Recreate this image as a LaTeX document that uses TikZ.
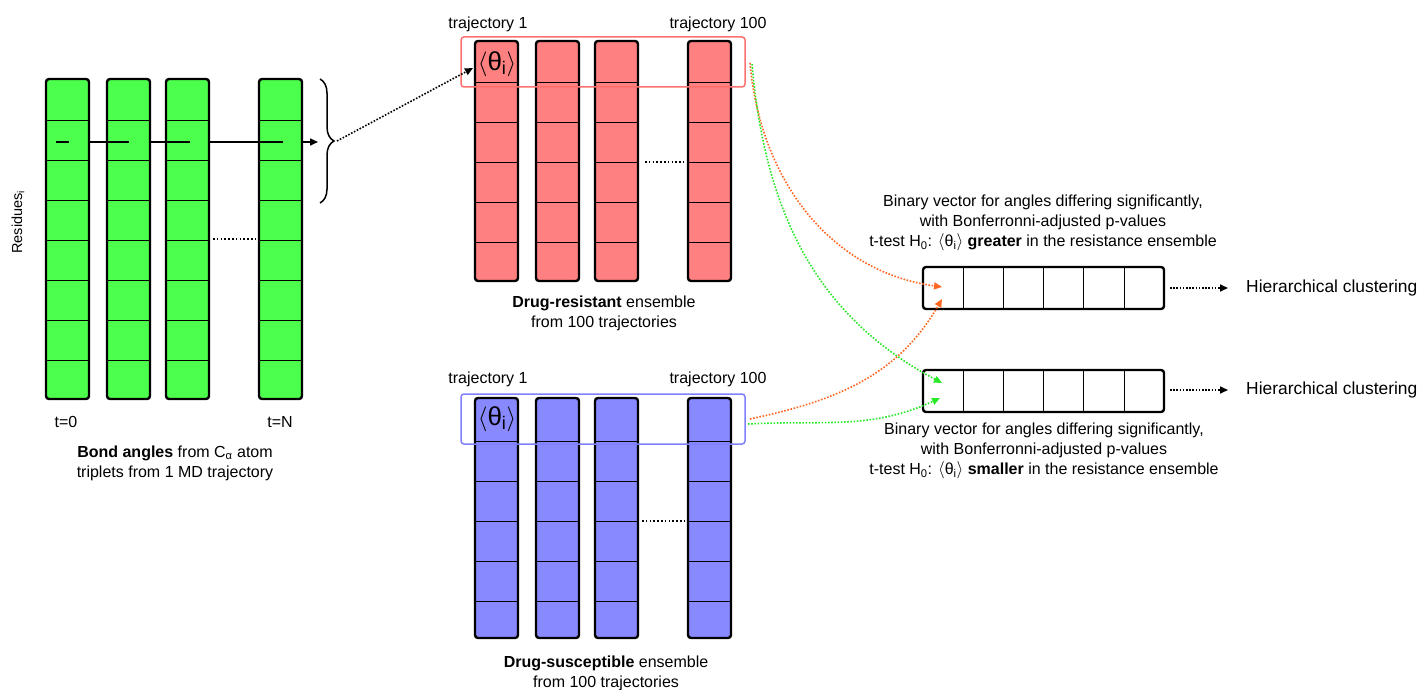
\documentclass[tikz,border=0pt]{standalone}
\usepackage{fontspec}
\setmainfont{Liberation Sans}
\usetikzlibrary{arrows.meta,calc,decorations.pathreplacing}

\definecolor{gfill}{RGB}{77,255,77}
\definecolor{rfill}{RGB}{255,128,128}
\definecolor{bfill}{RGB}{136,136,255}
\definecolor{redframe}{RGB}{255,112,112}
\definecolor{blueframe}{RGB}{128,128,255}
\definecolor{arrorange}{RGB}{255,102,34}
\definecolor{arrgreen}{RGB}{40,232,40}

\newcommand{\thetalab}{$\langle$θ\textsubscript{i}$\rangle$}

\begin{document}
\begin{tikzpicture}[x=1pt,y=-1pt,
  bar/.style={rectangle, rounded corners=3pt, draw=black, line width=2.4pt,
    inner sep=0pt, outer sep=0pt, minimum width=43pt, anchor=north west},
  rowline/.style={black, line width=0.9pt},
  gapdots/.style={black, line width=1.6pt, dash pattern=on 1.6pt off 2.2pt},
  frame/.style={rectangle, rounded corners=3pt, line width=1.5pt,
    inner sep=0pt, outer sep=0pt, anchor=north west},
  vecbox/.style={rectangle, rounded corners=3pt, draw=black, line width=2.4pt,
    inner sep=0pt, outer sep=0pt, minimum width=241pt, minimum height=42pt,
    anchor=north west},
  lbl/.style={inner sep=0pt, align=center, font=\fontsize{16}{20}\selectfont},
  biglbl/.style={inner sep=0pt, font=\fontsize{17.4}{20}\selectfont},
  thlbl/.style={inner sep=0pt, font=\fontsize{26}{28}\selectfont},
  dotarrow/.style={line width=1.6pt, dash pattern=on 1.6pt off 1.6pt,
    -{Triangle[length=8pt,width=7pt]}},
]
\useasboundingbox (0,0) rectangle (1421,690);

% ---------- trajectory of one run: green bars (time steps) ----------
\foreach \n/\x in {1/46,2/107,3/166,4/259} {
  \node[bar, fill=gfill, minimum height=320pt] (g\n) at (\x,79) {};
  \foreach \k in {1,...,7} \draw[rowline] (\x,80+40*\k) -- ++(43,0);
}
\draw[gapdots] (213,239) -- (255,239);

% one residue followed through time
\coordinate (l0) at (56,142);
\coordinate (l1) at (69,142);
\draw[line width=1.6pt] (l0) -- (l1);
\draw[line width=1.6pt] (g1.east |- l0) -- ($(g2.west |- l0)+(22,0)$);
\draw[line width=1.6pt] (g2.east |- l0) -- ($(g3.west |- l0)+(24,0)$);
\draw[line width=1.6pt] (g3.east |- l0) -- ($(g4.west |- l0)+(24,0)$);
\coordinate (gend) at (318,142);
\draw[line width=1.6pt, -{Triangle[length=8pt,width=7pt]}] (g4.east |- l0) -- (gend);

\node[rotate=90, inner sep=0pt, font=\fontsize{14.5}{16}\selectfont] (res) at (18,222) {Residues\textsubscript{i}};

\node[lbl] (t0) at (66,422) {t=0};
\node[lbl] (tN) at (280,422) {t=N};
\node[lbl] (bond) at (175,463) {\textbf{Bond angles} from C\textsubscript{α} atom\\triplets from 1 MD trajectory};

% brace over the first residues
\draw[line width=1.5pt, decorate, decoration={brace, amplitude=14pt}] (320,79) -- (320,203);
\coordinate (bt) at (337,141);

% ---------- drug-resistant ensemble ----------
\foreach \n/\x in {1/475,2/536,3/595,4/688} {
  \node[bar, fill=rfill, minimum height=240pt] (r\n) at (\x,41) {};
  \foreach \k in {1,...,5} \draw[rowline] (\x,42+40*\k) -- ++(43,0);
}
\draw[gapdots] (645,162) -- (684,162);
\node[frame, draw=redframe, minimum width=284pt, minimum height=50pt] (rframe) at (461,37) {};
\node[thlbl] (rth) at (497,64) {\thetalab};
\node[lbl] (rt1) at (488,24) {trajectory 1};
\node[lbl] (rt100) at (718,24) {trajectory 100};
\node[lbl] (rname) at (604,313) {\textbf{Drug-resistant} ensemble\\from 100 trajectories};

\coordinate (rin) at (473,68);
\draw[dotarrow] (bt) -- (rin);

% ---------- drug-susceptible ensemble ----------
\foreach \n/\x in {1/475,2/536,3/595,4/688} {
  \node[bar, fill=bfill, minimum height=240pt] (s\n) at (\x,398) {};
  \foreach \k in {1,...,5} \draw[rowline] (\x,401+40*\k) -- ++(43,0);
}
\draw[gapdots] (642,521) -- (686,521);
\node[frame, draw=blueframe, minimum width=284pt, minimum height=50pt] (sframe) at (461,394) {};
\node[thlbl] (sth) at (497,419) {\thetalab};
\node[lbl] (st1) at (488,379) {trajectory 1};
\node[lbl] (st100) at (718,379) {trajectory 100};
\node[lbl] (sname) at (606,673) {\textbf{Drug-susceptible} ensemble\\from 100 trajectories};

% ---------- binary vectors ----------
\node[vecbox] (v1) at (923,267) {};
\node[vecbox] (v2) at (923,370) {};
\foreach \k in {1,...,5} {
  \draw[rowline] ($(v1.north west)+(40.2*\k,0)$) -- ($(v1.south west)+(40.2*\k,0)$);
  \draw[rowline] ($(v2.north west)+(40.2*\k,0)$) -- ($(v2.south west)+(40.2*\k,0)$);
}
\node[lbl] (v1txt) at (1043,223) {Binary vector for angles differing significantly,\\with Bonferronni-adjusted p-values\\t-test H\textsubscript{0}: \thetalab{} \textbf{greater} in the resistance ensemble};
\node[lbl] (v2txt) at (1044,451) {Binary vector for angles differing significantly,\\with Bonferronni-adjusted p-values\\t-test H\textsubscript{0}: \thetalab{} \textbf{smaller} in the resistance ensemble};

\node[biglbl, anchor=west] (h1) at (1246,288) {Hierarchical clustering};
\node[biglbl, anchor=west] (h2) at (1246,390) {Hierarchical clustering};
\draw[dotarrow, shorten <=6pt, shorten >=18pt] (v1.east |- h1.west) -- (h1.west);
\draw[dotarrow, shorten <=6pt, shorten >=18pt] (v2.east |- h2.west) -- (h2.west);

% ---------- t-test connectors ----------
\coordinate (ro) at (750,63);
\coordinate (rg) at (752,64);
\coordinate (so) at (750,419);
\coordinate (sg) at (748,424);
\coordinate (v1a) at (942,287);
\coordinate (v1b) at (942,299);
\coordinate (v2a) at (942,383);
\coordinate (v2b) at (940,398);
\draw[dotarrow, arrorange] (ro) to[out=-85, in=172] (v1a);
\draw[dotarrow, arrgreen] (rg) to[out=-85, in=152] (v2a);
\draw[dotarrow, arrorange] (so) to[out=12, in=-120] (v1b);
\draw[dotarrow, arrgreen] (sg) to[out=3, in=-155] (v2b);
\end{tikzpicture}
\end{document}
